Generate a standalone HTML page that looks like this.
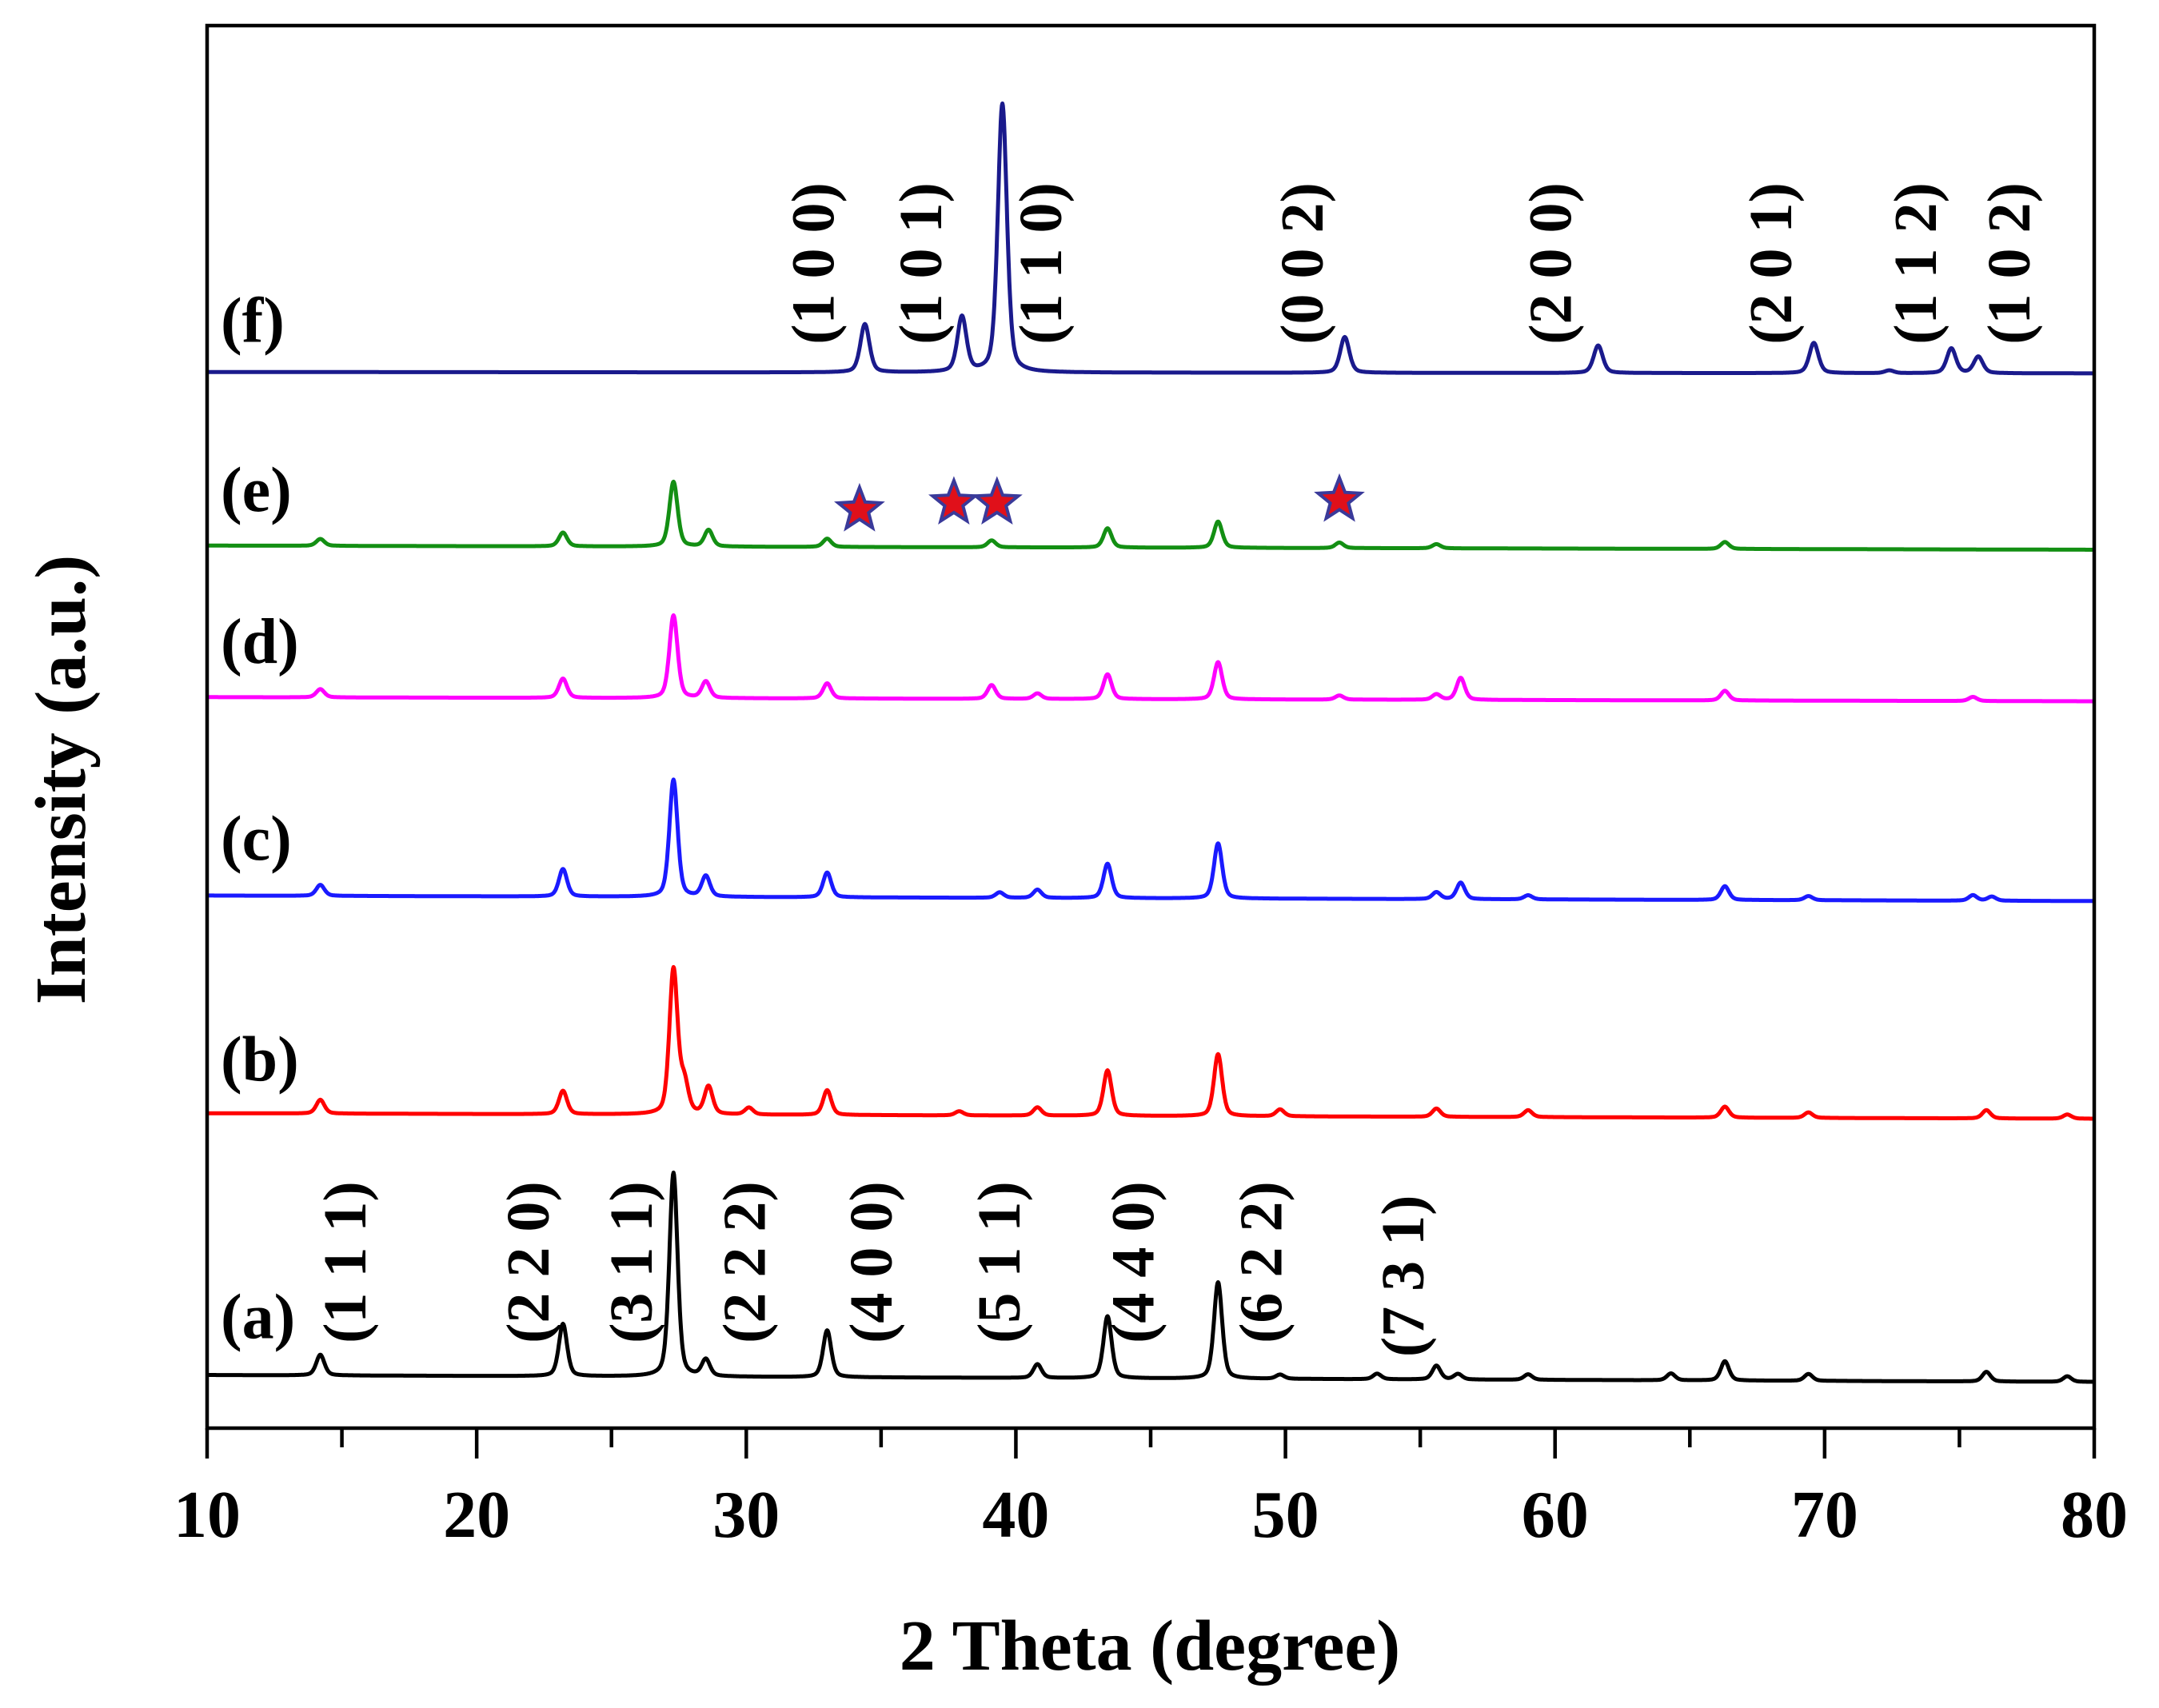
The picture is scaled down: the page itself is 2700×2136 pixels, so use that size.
<!DOCTYPE html>
<html><head><meta charset="utf-8"><style>
html,body{margin:0;padding:0;background:#fff}
svg{display:block}
text{font-family:"Liberation Serif",serif;font-weight:bold;fill:#000}
</style></head><body>
<svg id="chart" width="2700" height="2136" viewBox="0 0 2700 2136" xmlns="http://www.w3.org/2000/svg">
<rect x="0" y="0" width="2700" height="2136" fill="#fff"/>
<g id="traces"></g>
<g id="annot"></g>
<rect x="259" y="32" width="2360" height="1754" fill="none" stroke="#000" stroke-width="4.5"/>
<g id="xticks"></g>
<text x="1438" y="2088" font-size="90" text-anchor="middle">2 Theta (degree)</text>
<text x="0" y="0" font-size="90" text-anchor="middle" transform="translate(106,975) rotate(-90)">Intensity (a.u.)</text>
</svg>
<script>
const thetaMin = 10, thetaMax = 80;
const xTicks = [10,20,30,40,50,60,70,80];
const seriesNames = ['a','b','c','d','e','f'];
const seriesColors = ['#000000','#ff0000','#1a1aff','#ff00ff','#138f13','#1a1a8c'];
const seriesBase = [998, 808, 650, 506, 396, 270];
const seriesTilt = [5, 4, 4, 3, 3, 1];
const posA = [14.2,23.2,27.3,28.5,33.0,40.8,43.4,47.5,49.8,53.4,55.6,56.4,59.0,64.3,66.3,69.4,76.0,79.0];
const hA   = [15,38,148,12,34,10,45,70,3,4,10,4,4,5,14,5,7,4];
const posB = [14.2,23.2,27.3,27.7,28.6,30.1,33.0,37.9,40.8,43.4,47.5,49.8,55.6,59.0,66.3,69.4,76.0,79.0];
const hB   = [10,17,105,22,20,5,18,3,6,33,45,5,6,5,8,4,6,3];
const posC = [14.2,23.2,27.3,28.5,33.0,39.4,40.8,43.4,47.5,55.6,56.5,59.0,66.3,69.4,75.5,76.2];
const hC   = [8,20,85,15,18,4,6,25,40,5,12,3,10,3,4,3];
const posD = [14.2,23.2,27.3,28.5,33.0,39.1,40.8,43.4,47.5,52.0,55.6,56.5,66.3,75.5];
const hD   = [6,14,60,12,11,10,4,18,27,3,4,16,7,3];
const posE = [14.2,23.2,27.3,28.6,33.0,39.1,43.4,47.5,52.0,55.6,66.3];
const hE   = [5,10,47,12,6,5,14,19,4,3,5];
const posF = [34.4,38.0,39.5,52.2,61.6,69.6,72.4,74.7,75.7];
const hF   = [35,40,195,26,20,22,2,18,12];
const starTheta = [34.2,37.7,39.3,52.0];
const starY = [370,365,365,363];
const allPos = [posA,posB,posC,posD,posE,posF];
const allH = [hA,hB,hC,hD,hE,hF];
const K = 1.723;
const NS='http://www.w3.org/2000/svg';
function xs(t){return 259 + (t-thetaMin)/(thetaMax-thetaMin)*2360;}
function ys(v){return v*K;}
const tr=document.getElementById('traces');
for(let s=0;s<6;s++){
  const w = s===5?0.20:0.18;
  let d='';
  for(let t=thetaMin;t<=thetaMax+1e-9;t+=0.02){
    let v=0;
    const P=allPos[s],H=allH[s];
    for(let i=0;i<P.length;i++){const q=(t-P[i])/w;v+=H[i]*(0.6*Math.exp(-0.693*q*q)+0.4/(1+q*q));}
    const base=seriesBase[s]+seriesTilt[s]*(t-thetaMin)/(thetaMax-thetaMin);
    d+=(d?'L':'M')+xs(t).toFixed(1)+','+ys(base-v).toFixed(1);
  }
  const p=document.createElementNS(NS,'path');
  p.setAttribute('d',d);p.setAttribute('fill','none');p.setAttribute('stroke',seriesColors[s]);
  p.setAttribute('stroke-width','5');p.setAttribute('stroke-linejoin','round');
  
  
  tr.appendChild(p);
}
const an=document.getElementById('annot');
function txt(x,y,str,size,rot,name){
  const t=document.createElementNS(NS,'text');
  t.setAttribute('font-size',size);
  if(rot){t.setAttribute('transform','translate('+x+','+y+') rotate(-90)');t.setAttribute('x',0);t.setAttribute('y',0);}
  else{t.setAttribute('x',x);t.setAttribute('y',y);}
  t.textContent=str;
  
  
  an.appendChild(t);
}
const labY=[955,768,608,465,355,232];
for(let s=0;s<6;s++) txt(276, labY[s]*K+28, '('+seriesNames[s]+')', 80, false, 'series-label-'+seriesNames[s]);
const hklA=['(1 1 1)','(2 2 0)','(3 1 1)','(2 2 2)','(4 0 0)','(5 1 1)','(4 4 0)','(6 2 2)','(7 3 1)'];
const hklAx=[250,383,458,540,632,725,822,915,1018];
const hklF=['(1 0 0)','(1 0 1)','(1 1 0)','(0 0 2)','(2 0 0)','(2 0 1)','(1 1 2)','(1 0 2)'];
const hklFx=[590,668,755,945,1125,1285,1390,1458];
for(let i=0;i<hklA.length;i++) txt(hklAx[i]*K+26, (i===8?985:975)*K, hklA[i], 76, true, 'hkl-a-'+i);
for(let i=0;i<hklF.length;i++) txt(hklFx[i]*K+26, 250*K, hklF[i], 76, true, 'hkl-f-'+i);
for(let i=0;i<starTheta.length;i++){
  const cx=xs(starTheta[i]), cy=ys(starY[i]), R=28, r=12;
  let pts='';
  for(let k=0;k<10;k++){const a=-Math.PI/2+k*Math.PI/5;const rr=k%2?r:R;pts+=(cx+rr*Math.cos(a)).toFixed(1)+','+(cy+rr*Math.sin(a)).toFixed(1)+' ';}
  const st=document.createElementNS(NS,'polygon');
  st.setAttribute('points',pts);st.setAttribute('fill','#e0101a');st.setAttribute('stroke','#3a3a9a');st.setAttribute('stroke-width','4');
  
  
  an.appendChild(st);
}
const xt=document.getElementById('xticks');
for(let t=thetaMin;t<=thetaMax;t+=5){
  const major=(t%10===0);
  const l=document.createElementNS(NS,'line');
  l.setAttribute('x1',xs(t));l.setAttribute('x2',xs(t));l.setAttribute('y1',1786);l.setAttribute('y2',1786+(major?38:24));
  l.setAttribute('stroke','#000');l.setAttribute('stroke-width','4.5');
  
  
  xt.appendChild(l);
}
for(let i=0;i<xTicks.length;i++){
  const t=document.createElementNS(NS,'text');
  t.setAttribute('x',xs(xTicks[i]));t.setAttribute('y',1922);t.setAttribute('font-size','84');t.setAttribute('text-anchor','middle');
  t.textContent=xTicks[i];
  
  
  xt.appendChild(t);
}
</script>
</body></html>
